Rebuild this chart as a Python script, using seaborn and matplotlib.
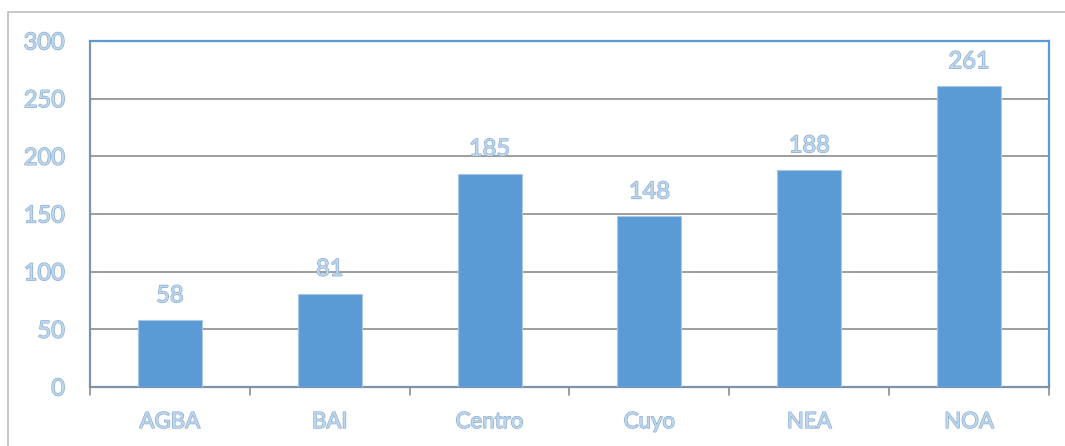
import matplotlib
matplotlib.use("Agg")
import matplotlib.pyplot as plt
import matplotlib.patheffects as pe
from matplotlib.patches import Rectangle
import seaborn as sns
import pandas as pd

regions = ["AGBA", "BAI", "Centro", "Cuyo", "NEA", "NOA"]
counts = [58, 81, 185, 148, 188, 261]
y_ticks = [0, 50, 100, 150, 200, 250, 300]

sns.set_theme(style="white")
plt.rcParams["font.family"] = ["Lato", "DejaVu Sans"]

W, H = 1065, 446
fig = plt.figure(figsize=(W / 100, H / 100), dpi=100)
ax = fig.add_axes([90 / W, 1 - 387 / H, (1049 - 90) / W, (387 - 41) / H])

# outer chart-area frame
fig.patches.append(Rectangle((8 / W, -0.1), 1.2, 1 - 12 / H + 0.1,
                             transform=fig.transFigure, fill=False,
                             edgecolor="#BFBFBF", linewidth=1.2, zorder=0))

df = pd.DataFrame({"region": regions, "count": counts})
bar_color = "#5B9BD5"
sns.barplot(data=df, x="region", y="count", color=bar_color, width=0.4,
            saturation=1, ax=ax, zorder=3, edgecolor="#A9C8E8", linewidth=0.8)

ax.set_ylim(0, 300)
ax.set_xlim(-0.5, len(regions) - 0.5)
ax.set_yticks(y_ticks)
ax.set_xlabel("")
ax.set_ylabel("")

ax.yaxis.grid(True, color="#8C8C8C", linewidth=1.2, zorder=0)
ax.set_axisbelow(True)

txt_color = "#BDD7EE"
fx = [pe.withStroke(linewidth=0.9, foreground="#86A8CC")]

ax.tick_params(axis="y", length=8, width=1.2, color="#8C8C8C", direction="out",
               pad=10, labelsize=17, labelcolor=txt_color)
ax.tick_params(axis="x", length=0, pad=18, labelsize=16, labelcolor=txt_color)
for lab in ax.get_yticklabels() + ax.get_xticklabels():
    lab.set_path_effects(fx)

# x ticks sit between categories
for b in [i - 0.5 for i in range(len(regions) + 1)]:
    ax.plot([b, b], [0, -0.022], transform=ax.get_xaxis_transform(),
            color="#8C8C8C", linewidth=1.2, clip_on=False, zorder=4)

for side in ["left", "bottom"]:
    ax.spines[side].set_color("#7F93A8")
    ax.spines[side].set_linewidth(1.6)
for side in ["top", "right"]:
    ax.spines[side].set_color("#5B9BD5")
    ax.spines[side].set_linewidth(1.6)

for i, v in enumerate(counts):
    ax.annotate(str(v), (i, v), xytext=(0, 17.5), textcoords="offset points",
                ha="center", va="center", fontsize=17, color=txt_color,
                path_effects=fx)

fig.savefig("out.png", dpi=100)
